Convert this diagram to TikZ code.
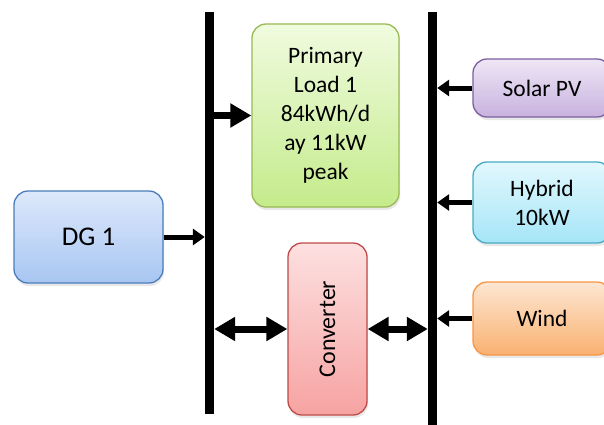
\documentclass[tikz,border=0pt]{standalone}
\usepackage{fontspec}
\setmainfont{Carlito}
\usetikzlibrary{arrows.meta,shadows}

\definecolor{dgtop}{HTML}{DDE8FB}
\definecolor{dgbot}{HTML}{A8C6F2}
\definecolor{dgline}{HTML}{4A7EBB}
\definecolor{ldtop}{HTML}{F0FBDF}
\definecolor{ldbot}{HTML}{C4EB8B}
\definecolor{ldline}{HTML}{98B954}
\definecolor{cvtop}{HTML}{FDE0E0}
\definecolor{cvbot}{HTML}{F6A3A2}
\definecolor{cvline}{HTML}{BE4B48}
\definecolor{pvtop}{HTML}{EEE6F6}
\definecolor{pvbot}{HTML}{C8B2DE}
\definecolor{pvline}{HTML}{7D60A0}
\definecolor{hytop}{HTML}{E2F8FD}
\definecolor{hybot}{HTML}{A5E5F7}
\definecolor{hyline}{HTML}{46AAC5}
\definecolor{wdtop}{HTML}{FDE6D2}
\definecolor{wdbot}{HTML}{F9B170}
\definecolor{wdline}{HTML}{F79646}

\tikzset{
  box/.style={draw, line width=1.3pt, rounded corners=14pt, inner sep=0pt,
    align=center, font=\fontsize{23.5}{29}\selectfont,
    drop shadow={opacity=0.18, shadow xshift=1pt, shadow yshift=-3pt}},
  shade2/.style n args={3}{draw=#3, top color=#1, bottom color=#2},
  bus/.style={fill=black, inner sep=0pt, minimum width=9pt},
  thinarrow/.style={line width=5pt, -{Triangle[length=12pt,width=16pt]}},
  bigarrow/.style={line width=7pt, -{Triangle[length=21pt,width=23pt]}},
  duplex/.style={line width=7pt, {Triangle[length=21pt,width=23pt]}-{Triangle[length=21pt,width=23pt]}},
}

\begin{document}
\begin{tikzpicture}[x=1pt,y=-1pt]
  \useasboundingbox (0,0) rectangle (604,424);
  \begin{scope}
  \clip (0,0) rectangle (604,424);

  % bus bars
  \node[bus, minimum height=402pt] (lbus) at (209.5,213) {};
  \node[bus, minimum height=416pt] (rbus) at (432.5,220) {};

  % equipment
  \node[box, shade2={dgtop}{dgbot}{dgline}, minimum width=149pt, minimum height=92pt,
        font=\fontsize{27}{30}\selectfont] (dg) at (88.5,237) {DG 1};
  \node[box, shade2={ldtop}{ldbot}{ldline}, minimum width=147pt, minimum height=183pt]
        (load) at (325.5,115.5) {Primary\\Load 1\\84kWh/d\\ay 11kW\\peak};
  \node[box, shade2={cvtop}{cvbot}{cvline}, minimum width=79pt, minimum height=172pt]
        (conv) at (327.5,329) {};
  \node[rotate=90, font=\fontsize{24}{28}\selectfont] at (conv.center) {Converter};
  \node[box, shade2={pvtop}{pvbot}{pvline}, minimum width=138pt, minimum height=58pt]
        (pv) at (542,88) {Solar PV};
  \node[box, shade2={hytop}{hybot}{hyline}, minimum width=138pt, minimum height=81pt]
        (hyb) at (542,202.5) {Hybrid\\10kW};
  \node[box, shade2={wdtop}{wdbot}{wdline}, minimum width=138pt, minimum height=73pt]
        (wind) at (542,318.5) {Wind};

  % connectors
  \draw[thinarrow] (dg.east) -- (dg.east -| lbus.west);
  \draw[bigarrow] (load.west -| lbus.east) -- (load.west);
  \draw[duplex] (conv.west -| lbus.east) -- (conv.west);
  \draw[duplex] (conv.east) -- (conv.east -| rbus.west);
  \draw[thinarrow] (pv.west) -- (pv.west -| rbus.east);
  \draw[thinarrow] (hyb.west) -- (hyb.west -| rbus.east);
  \draw[thinarrow] (wind.west) -- (wind.west -| rbus.east);
  \end{scope}
\end{tikzpicture}
\end{document}
